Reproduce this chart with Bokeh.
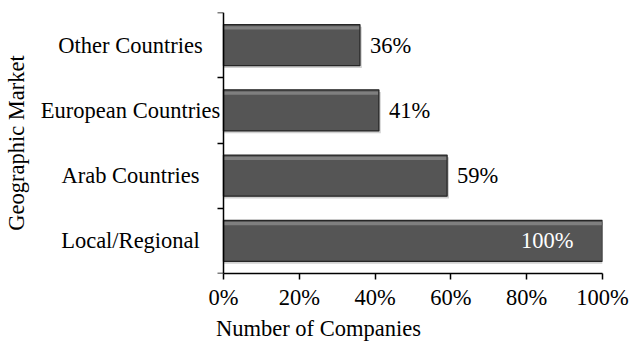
from bokeh.plotting import figure
from bokeh.models import ColumnDataSource, FixedTicker, LinearAxis, Title
from bokeh.core.properties import value
from bokeh.embed import file_html
from bokeh.resources import INLINE

categories = ["Local/Regional", "Arab Countries", "European Countries", "Other Countries"]
shares = [100, 59, 41, 36]
value_labels = ["100%", "59%", "41%", "36%"]
x_ticks = [0, 20, 40, 60, 80, 100]
x_tick_labels = ["0%", "20%", "40%", "60%", "80%", "100%"]
y_title = "Geographic Market"
x_title = "Number of Companies"

FONT = "Liberation Serif"
FS = "22.5px"
BAR_H = 0.63

# layout (pixels): frame from 34 to 602, value 0 sits at x=223, labels centred at x=130
W, H = 641, 342
FRAME_L, FRAME_R = 34, 602
ZERO_PX, LABEL_PX = 223, 130
X_MAX = 100
px_per_unit = (FRAME_R - ZERO_PX) / X_MAX
x_min = -(ZERO_PX - FRAME_L) / px_per_unit
label_x = -(ZERO_PX - LABEL_PX) / px_per_unit
# x title centred under the 0..100 span rather than the whole frame
x_title_shift = (ZERO_PX + FRAME_R) / 2 - (FRAME_L + FRAME_R) / 2

ypos = [i + 0.5 for i in range(len(categories))]
inside = [s >= 90 for s in shares]

src = ColumnDataSource(dict(
    y=ypos, v=shares, lab=value_labels,
    y_hl=[y + BAR_H / 2 - 0.05 for y in ypos],
    y_sh=[y - 0.035 for y in ypos],
    v_sh=[s + 0.5 for s in shares]))
src_out = ColumnDataSource(dict(
    y=[y for y, ins in zip(ypos, inside) if not ins],
    v=[s for s, ins in zip(shares, inside) if not ins],
    lab=[l for l, ins in zip(value_labels, inside) if not ins]))
src_in = ColumnDataSource(dict(
    y=[y for y, ins in zip(ypos, inside) if ins],
    v=[s for s, ins in zip(shares, inside) if ins],
    lab=[l for l, ins in zip(value_labels, inside) if ins]))
cat_src = ColumnDataSource(dict(y=ypos, cat=categories))

p = figure(width=W, height=H, output_backend="svg", toolbar_location=None,
           x_range=(x_min, X_MAX), y_range=(0, len(categories)),
           min_border_left=FRAME_L, min_border_right=W - FRAME_R,
           min_border_top=12, min_border_bottom=69)
p.outline_line_color = None
p.xgrid.visible = False
p.ygrid.visible = False

# bars: soft shadow, body, top bevel highlight, outline
p.hbar(y="y_sh", right="v_sh", left=0, height=BAR_H, source=src, fill_color="#bdbdbd",
       line_color=None, fill_alpha=0.7)
p.hbar(y="y", right="v", left=0, height=BAR_H, source=src, fill_color="#555555",
       line_color=None)
p.hbar(y="y_hl", right="v", left=0, height=0.05, source=src, fill_color="#8a8a8a",
       line_color=None, fill_alpha=0.8)
p.hbar(y="y", right="v", left=0, height=BAR_H, source=src, fill_color=None,
       line_color="#262626", line_width=1.3)

# value labels
p.text(x="v", y="y", text="lab", source=src_out, x_offset=10,
       text_font=value(FONT), text_font_size=FS, text_baseline="middle",
       text_align="left", text_color="black")
p.text(x="v", y="y", text="lab", source=src_in, x_offset=-29,
       text_font=value(FONT), text_font_size=FS, text_baseline="middle",
       text_align="right", text_color="white")

# centred category names
p.text(x=label_x, y="y", text="cat", source=cat_src, text_align="center",
       text_baseline="middle", text_font=value(FONT), text_font_size=FS,
       text_color="black")

# x axis, drawn only over 0..100
p.xaxis.ticker = FixedTicker(ticks=x_ticks)
p.xaxis.major_label_overrides = {t: l for t, l in zip(x_ticks, x_tick_labels)}
p.xaxis.bounds = (0, X_MAX)
p.xaxis.minor_tick_line_color = None
p.xaxis.major_tick_out = 6
p.xaxis.major_tick_in = 0
p.xaxis.major_label_standoff = 5
p.xaxis.major_tick_line_color = "black"
p.xaxis.major_tick_line_width = 1.5
p.xaxis.axis_line_color = "black"
p.xaxis.axis_line_width = 1.5
p.xaxis.major_label_text_font = FONT
p.xaxis.major_label_text_font_size = FS
p.xaxis.major_label_text_color = "black"

# x title as a below-title so it can sit under the 0..100 span
p.add_layout(Title(text=x_title, align="center", offset=x_title_shift, standoff=2,
                   text_font=FONT, text_font_size=FS, text_font_style="normal",
                   text_color="black"), "below")

# frame-edge y axis carries only the title
p.yaxis.ticker = FixedTicker(ticks=[])
p.yaxis.axis_line_color = None
p.yaxis.major_tick_line_color = None
p.yaxis.minor_tick_line_color = None
p.yaxis.major_label_standoff = 0
p.yaxis.axis_label = y_title
p.yaxis.axis_label_standoff = 6
p.yaxis.axis_label_text_font = FONT
p.yaxis.axis_label_text_font_size = FS
p.yaxis.axis_label_text_font_style = "normal"
p.yaxis.axis_label_text_color = "black"

# y axis line at value 0 with ticks at category boundaries
cat_axis = LinearAxis(fixed_location=0,
                      ticker=FixedTicker(ticks=[], minor_ticks=list(range(len(categories) + 1))))
cat_axis.axis_line_color = "black"
cat_axis.axis_line_width = 1.5
cat_axis.major_tick_line_color = None
cat_axis.minor_tick_out = 6
cat_axis.minor_tick_in = 0
cat_axis.minor_tick_line_color = "black"
cat_axis.minor_tick_line_width = 1.5
cat_axis.major_label_standoff = 0
p.add_layout(cat_axis, "left")

open("out.html", "w").write(file_html(p, INLINE))
